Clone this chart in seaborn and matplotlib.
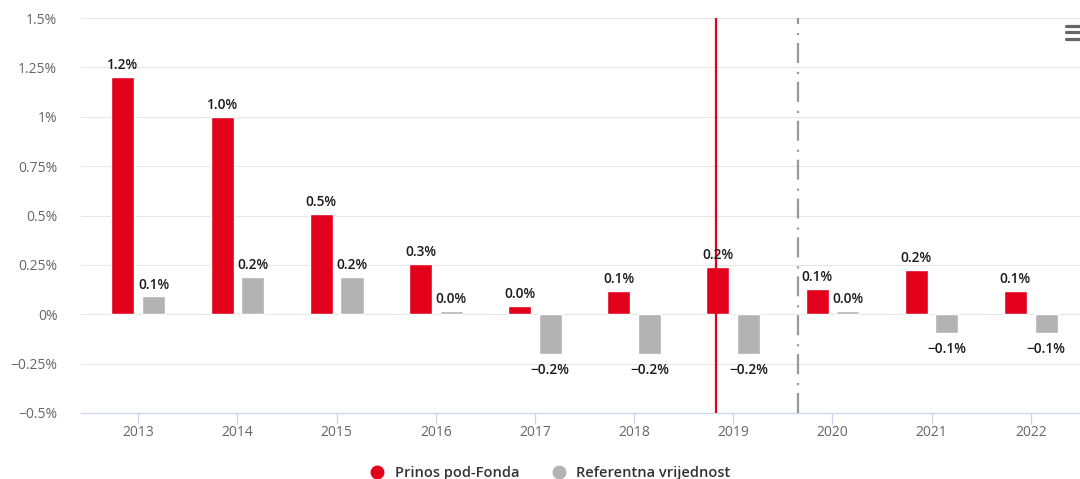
import matplotlib
matplotlib.use("Agg")
import matplotlib.pyplot as plt
import seaborn as sns
import pandas as pd
from matplotlib.lines import Line2D

# ---- data ----
years = ["2013", "2014", "2015", "2016", "2017", "2018", "2019", "2020", "2021", "2022"]
fund = [1.2, 1.0, 0.51, 0.253, 0.04, 0.12, 0.24, 0.13, 0.223, 0.12]
bench = [0.09, 0.19, 0.19, 0.015, -0.2, -0.2, -0.2, 0.015, -0.096, -0.096]
series_names = ["Prinos pod-Fonda", "Referentna vrijednost"]
colors = ["#e2001a", "#b3b3b3"]
y_ticks = [-0.5, -0.25, 0, 0.25, 0.5, 0.75, 1, 1.25, 1.5]
y_tick_labels = ["−0.5%", "−0.25%", "0%", "0.25%", "0.5%", "0.75%", "1%", "1.25%", "1.5%"]
red_line_x = 5.823
dashdot_x = 6.657

sns.set_theme(style="white")
plt.rcParams['font.family'] = ['Open Sans', 'DejaVu Sans']

df = pd.DataFrame({
    "year": years * 2,
    "value": fund + bench,
    "series": [series_names[0]] * len(years) + [series_names[1]] * len(years),
})

W, H = 1080, 479
fig = plt.figure(figsize=(W / 100, H / 100), dpi=100)
ax = fig.add_axes([81 / W, 66 / H, (W - 81) / W, 395 / H])

sns.barplot(data=df, x="year", y="value", hue="series", palette=colors,
            width=0.62, gap=0.25, saturation=1, ax=ax, legend=False, zorder=3)

ax.set_xlim(-0.578, 9.497)
ax.set_ylim(-0.5, 1.5)
ax.set_yticks(y_ticks)
ax.set_yticklabels(y_tick_labels)
ax.set_xlabel("")
ax.set_ylabel("")

ax.yaxis.grid(True, color="#e6e6e6", linewidth=0.75, zorder=0)
ax.xaxis.grid(False)
ax.set_axisbelow(True)
for s in ["top", "right", "left"]:
    ax.spines[s].set_visible(False)
ax.spines["bottom"].set_color("#ccd6eb")
ax.spines["bottom"].set_linewidth(0.9)

ax.tick_params(axis="y", length=0, pad=17, labelsize=10, labelcolor="#666666")
ax.tick_params(axis="x", length=8, width=0.9, color="#ccd6eb", pad=1,
               labelsize=10, labelcolor="#666666", bottom=True)

# vertical markers
ax.axvline(red_line_x, color="#e2001a", linewidth=1.6, zorder=4)
ax.axvline(dashdot_x, color="#999999", linewidth=1.6, zorder=4,
           linestyle=(0, (9, 3.5, 1, 4)))

# data labels
for container, vals in zip(ax.containers, [fund, bench]):
    for bar, v in zip(container, vals):
        x = bar.get_x() + bar.get_width() / 2
        lab = f"{v:.1f}%".replace("-", "−")
        if v >= 0:
            ax.annotate(lab, (x, v), xytext=(0, 3.5), textcoords="offset points",
                        ha="center", va="bottom", fontsize=9.8, fontweight="semibold",
                        color="#1a1a1a", zorder=6)
        else:
            ax.annotate(lab, (x, v), xytext=(0, -6.5), textcoords="offset points",
                        ha="center", va="top", fontsize=9.8, fontweight="semibold",
                        color="#1a1a1a", zorder=6)

# legend
handles = [Line2D([0], [0], marker="o", linestyle="none", markersize=9,
                  markerfacecolor=c, markeredgecolor=c) for c in colors]
fig.legend(handles, series_names, loc="center", bbox_to_anchor=(0.51, 0.013),
           ncol=2, frameon=False, handlelength=0.8, handletextpad=0.8,
           columnspacing=2.3, prop={"size": 10.5, "weight": "semibold"},
           labelcolor="#333333")

# menu icon
for yp in [25.7, 32.3, 39.0]:
    fig.add_artist(Line2D([1066 / W, 1082 / W], [1 - yp / H, 1 - yp / H],
                          transform=fig.transFigure, color="#666666",
                          linewidth=2.3, solid_capstyle="round"))

fig.savefig("out.png", dpi=100)
